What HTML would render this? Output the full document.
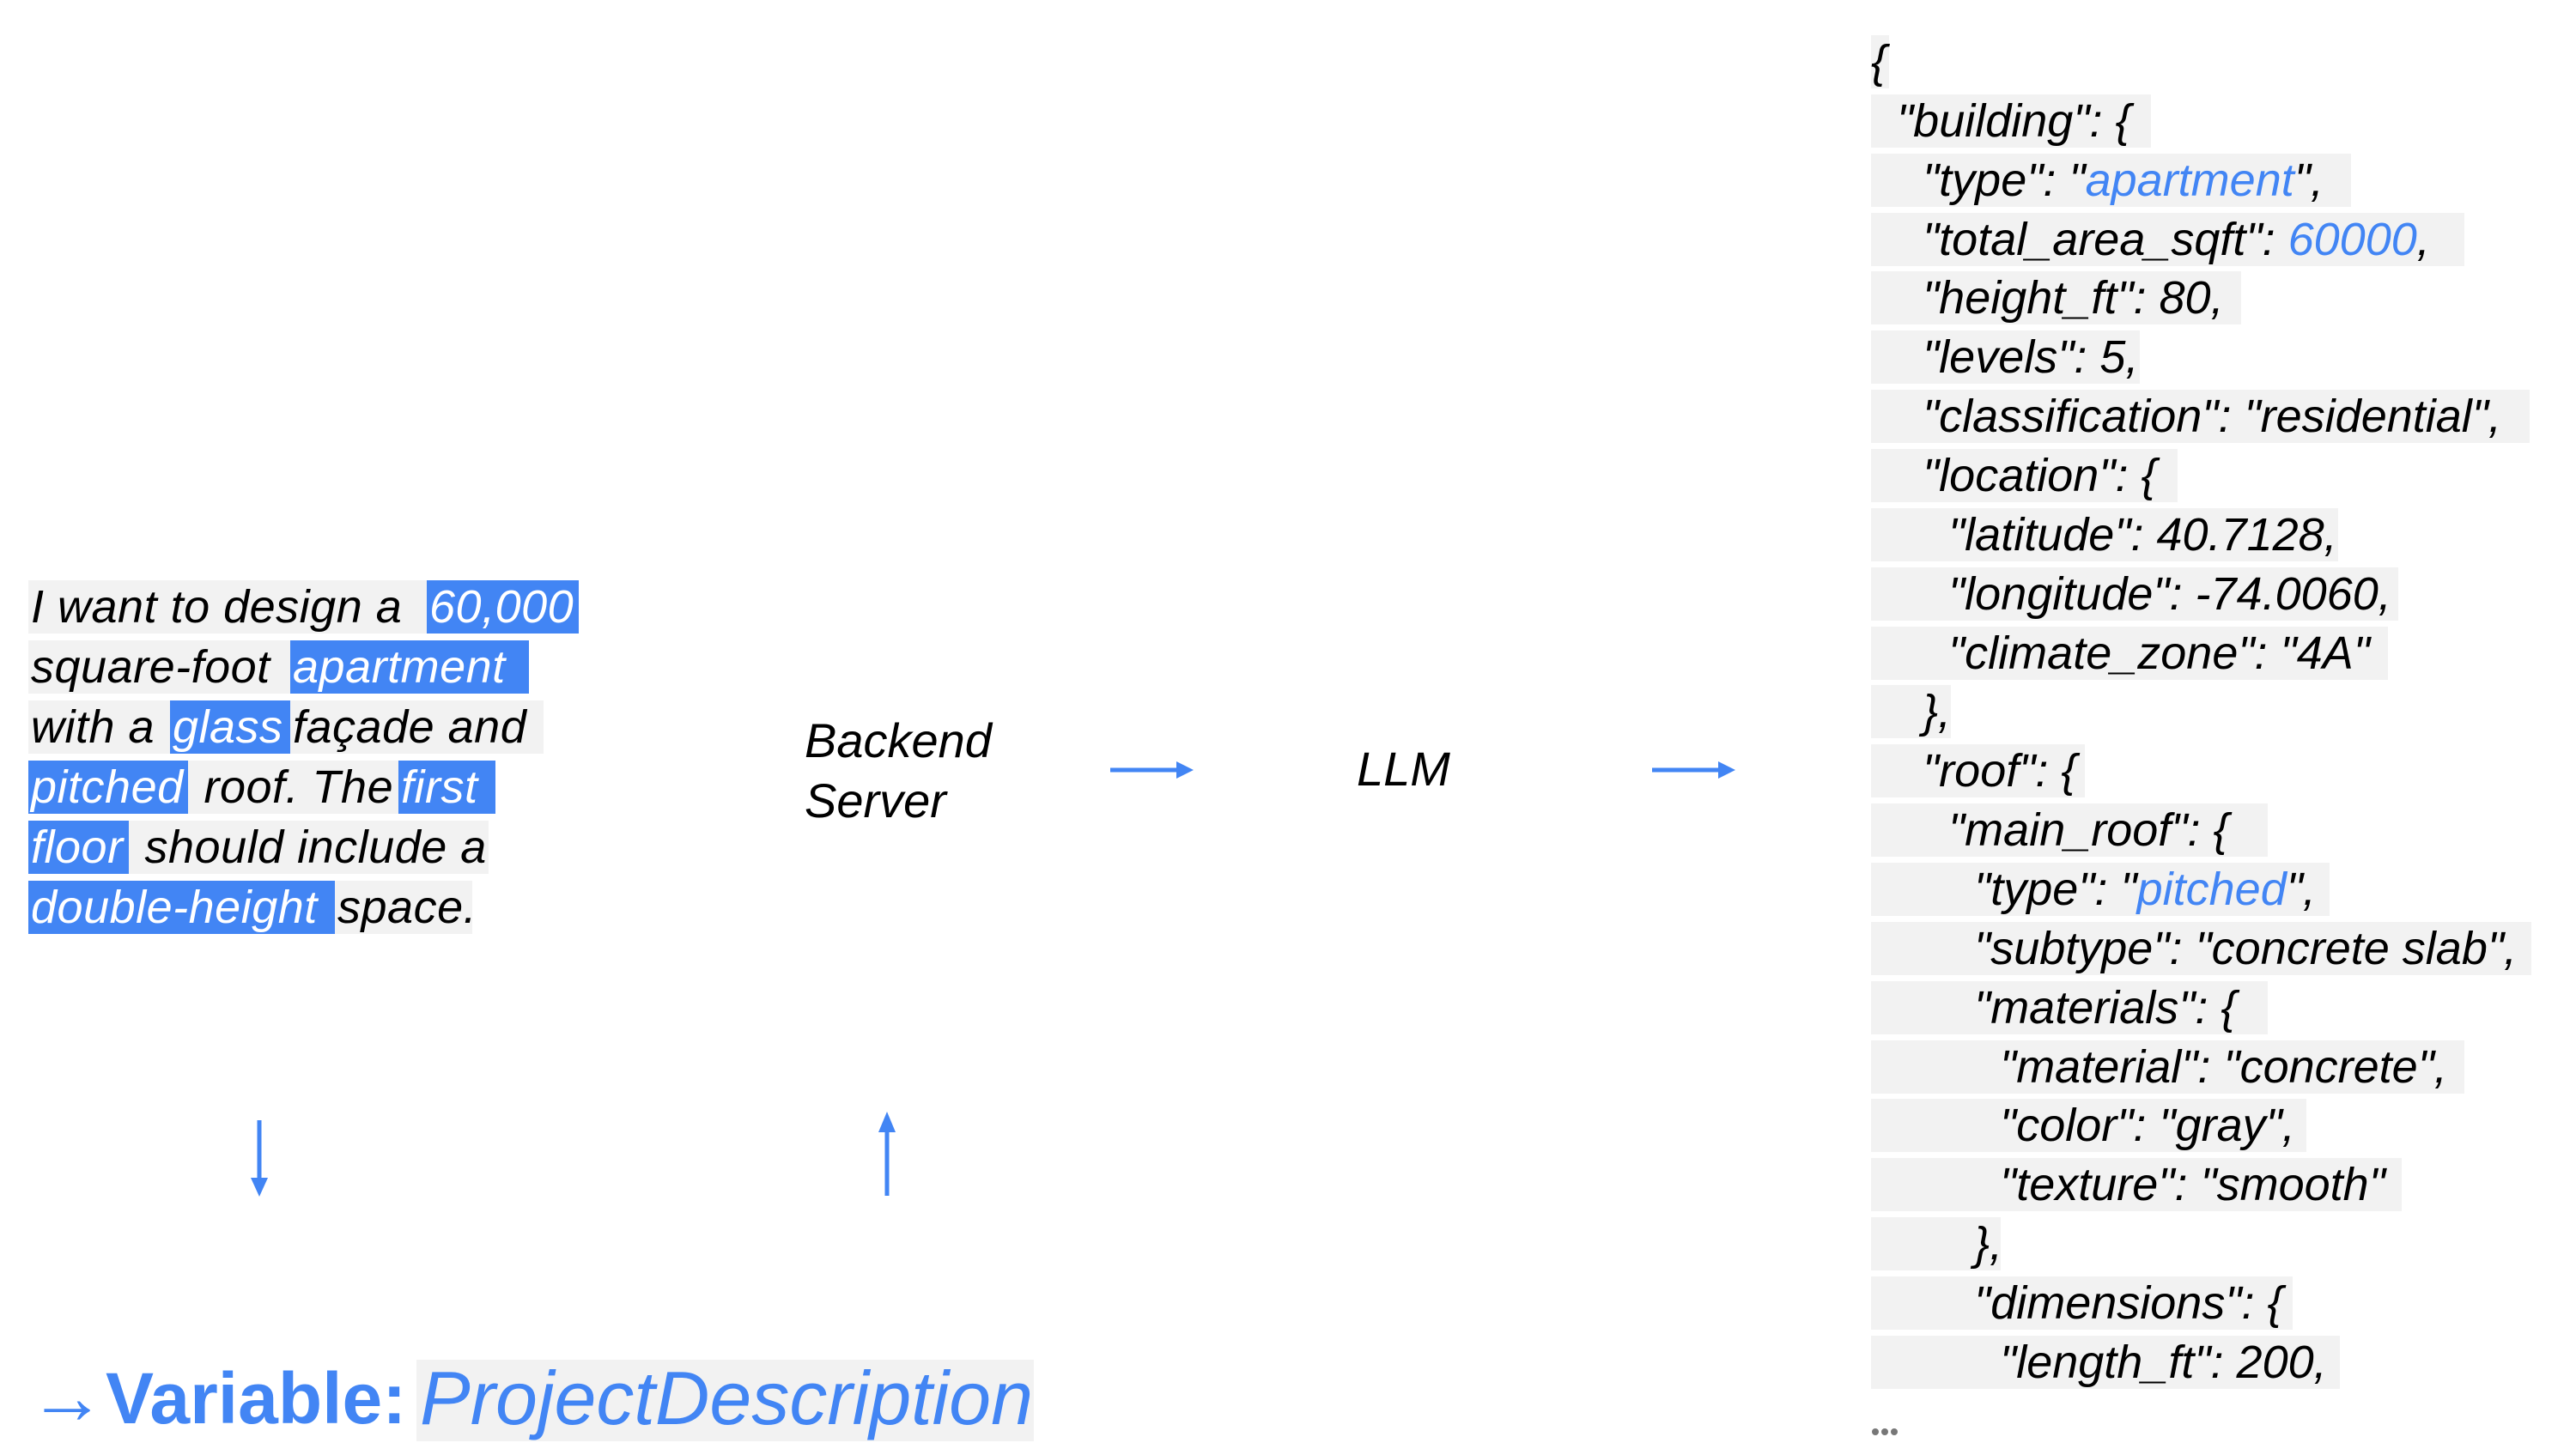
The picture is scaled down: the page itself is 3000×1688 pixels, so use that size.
<!DOCTYPE html>
<html><head><meta charset="utf-8"><style>
*{margin:0;padding:0;box-sizing:border-box}
body{width:3000px;height:1688px;background:#fff;position:relative;overflow:hidden;font-family:"Liberation Sans",sans-serif;}
.ln{position:absolute;left:33px;height:62px;display:flex;}
.ln span{display:block;height:62px;line-height:62px;font-size:54px;font-style:italic;white-space:pre;overflow:hidden;padding-left:3px;color:#000;background:#f2f2f2;letter-spacing:0.5px}
.ln span.b{background:#4285f4;color:#fff}
.j{position:absolute;left:2179px;height:62px;line-height:62px;background:#f2f2f2;font-size:54px;font-style:italic;white-space:pre;color:#000}
.j i{color:#4285f4}
.t{position:absolute;font-size:56px;font-style:italic;color:#000;white-space:pre}
</style></head><body>
<div class="ln" style="top:676px"><span style="width:464px">I want to design a</span><span class="b" style="width:177px">60,000</span></div>
<div class="ln" style="top:746px"><span style="width:305px">square-foot</span><span class="b" style="width:278px">apartment</span></div>
<div class="ln" style="top:816px"><span style="width:165px">with a</span><span class="b" style="width:140px">glass</span><span style="width:295px">façade and</span></div>
<div class="ln" style="top:886px"><span class="b" style="width:186px">pitched</span><span style="width:245px"> roof. The</span><span class="b" style="width:113px">first</span></div>
<div class="ln" style="top:956px"><span class="b" style="width:117px">floor</span><span style="width:419px"> should include a</span></div>
<div class="ln" style="top:1026px"><span class="b" style="width:357px">double-height</span><span style="width:160px">space.</span></div>

<div class="t" style="left:937px;top:828px;line-height:70px">Backend
Server</div>
<div class="t" style="left:1580px;top:866px;line-height:60px">LLM</div>

<svg width="3000" height="1688" style="position:absolute;left:0;top:0" fill="#4285f4">
<line x1="1293" y1="897" x2="1374" y2="897" stroke="#4285f4" stroke-width="5"/><polygon points="1390,897 1370,887 1370,907"/>
<line x1="1924" y1="897" x2="2005" y2="897" stroke="#4285f4" stroke-width="5"/><polygon points="2021,897 2001,887 2001,907"/>
<line x1="302" y1="1305" x2="302" y2="1376" stroke="#4285f4" stroke-width="5"/><polygon points="302,1394 292,1372 312,1372"/>
<line x1="1033" y1="1393" x2="1033" y2="1315" stroke="#4285f4" stroke-width="5"/><polygon points="1033,1295 1023,1319 1043,1319"/>
<circle cx="2184" cy="1668" r="4" fill="#777"/><circle cx="2195" cy="1668" r="4" fill="#777"/><circle cx="2206" cy="1668" r="4" fill="#777"/>
</svg>

<div style="position:absolute;left:485px;top:1584px;width:719px;height:95px;background:#f2f2f2"></div>
<div style="position:absolute;left:33px;top:1576px;height:105px;line-height:105px;font-size:84px;color:#4285f4;white-space:pre"><span style="font-size:90px;font-weight:normal">→</span><b>Variable:</b></div>
<div style="position:absolute;left:489px;top:1576px;height:105px;line-height:105px;font-size:88px;color:#4285f4;white-space:pre"><i>ProjectDescription</i></div>

<div class="j" style="top:41px;width:21px">{</div>
<div class="j" style="top:110px;width:326px">  "building": {</div>
<div class="j" style="top:179px;width:559px">    "type": "<i>apartment</i>",</div>
<div class="j" style="top:248px;width:691px">    "total_area_sqft": <i>60000</i>,</div>
<div class="j" style="top:316px;width:431px">    "height_ft": 80,</div>
<div class="j" style="top:385px;width:313px">    "levels": 5,</div>
<div class="j" style="top:454px;width:767px">    "classification": "residential",</div>
<div class="j" style="top:523px;width:357px">    "location": {</div>
<div class="j" style="top:592px;width:544px">      "latitude": 40.7128,</div>
<div class="j" style="top:661px;width:614px">      "longitude": -74.0060,</div>
<div class="j" style="top:730px;width:602px">      "climate_zone": "4A"</div>
<div class="j" style="top:798px;width:93px">    },</div>
<div class="j" style="top:867px;width:249px">    "roof": {</div>
<div class="j" style="top:936px;width:462px">      "main_roof": {</div>
<div class="j" style="top:1005px;width:534px">        "type": "<i>pitched</i>",</div>
<div class="j" style="top:1074px;width:769px">        "subtype": "concrete slab",</div>
<div class="j" style="top:1143px;width:462px">        "materials": {</div>
<div class="j" style="top:1212px;width:691px">          "material": "concrete",</div>
<div class="j" style="top:1280px;width:507px">          "color": "gray",</div>
<div class="j" style="top:1349px;width:618px">          "texture": "smooth"</div>
<div class="j" style="top:1418px;width:151px">        },</div>
<div class="j" style="top:1487px;width:491px">        "dimensions": {</div>
<div class="j" style="top:1556px;width:546px">          "length_ft": 200,</div>
</body></html>
